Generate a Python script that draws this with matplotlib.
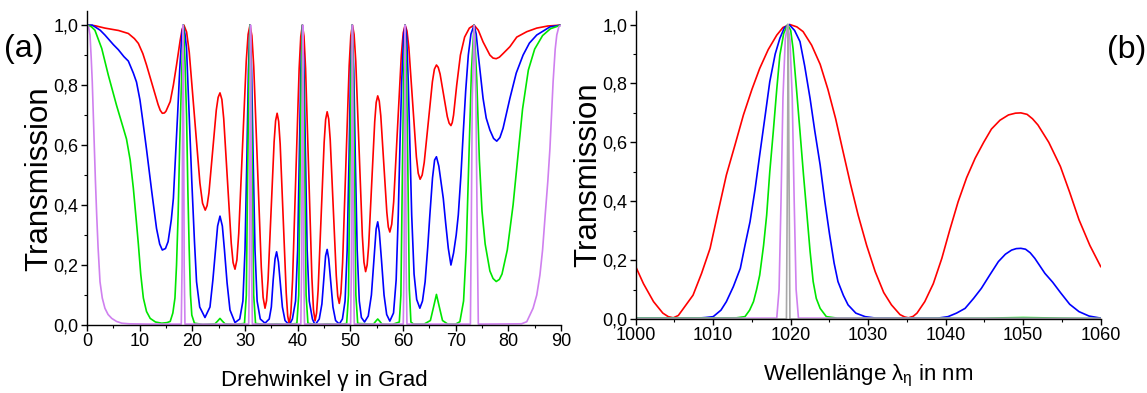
import numpy as np
import matplotlib
matplotlib.use("Agg")
import matplotlib.pyplot as plt
from matplotlib.ticker import MultipleLocator, FixedLocator, FixedFormatter

plt.rcParams['font.family'] = ['Liberation Sans', 'DejaVu Sans']
plt.rcParams['mathtext.fontset'] = 'custom'
plt.rcParams['mathtext.rm'] = 'Liberation Sans'
plt.rcParams['mathtext.it'] = 'Liberation Sans'

# ---- panel (a): transmission vs. rotation angle (deg, T) ----
red_a = [
    (0.0, 1.0), (1.5, 0.998), (3.4, 0.99), (6.0, 0.982), (7.85, 0.972), (9.0, 0.955),
    (9.75, 0.939), (10.6, 0.905), (11.3, 0.867), (12.0, 0.825), (12.6, 0.789), (13.5, 0.735),
    (13.9, 0.716), (14.3, 0.706), (14.7, 0.707), (15.0, 0.713), (15.8, 0.745), (16.4, 0.80),
    (17.0, 0.867), (17.7, 0.95), (18.05, 0.985), (18.4, 1.0),
    (18.91, 0.977), (19.41, 0.91), (20.43, 0.69), (21.44, 0.473), (21.94, 0.406),
    (22.45, 0.383), (22.8, 0.398), (23.15, 0.44), (23.85, 0.579), (24.55, 0.717), (24.9, 0.759),
    (25.25, 0.774), (25.61, 0.752), (25.96, 0.688), (26.68, 0.48), (27.39, 0.272), (27.74, 0.208),
    (28.1, 0.186), (28.46, 0.217), (28.81, 0.305), (29.53, 0.593), (30.24, 0.881), (30.59, 0.969),
    (30.95, 1.0), (31.31, 0.964), (31.66, 0.862), (32.38, 0.528), (33.09, 0.194), (33.44, 0.092),
    (33.8, 0.056), (34.09, 0.081), (34.38, 0.151), (34.95, 0.381), (35.53, 0.611), (35.81, 0.681),
    (36.1, 0.706), (36.39, 0.679), (36.68, 0.603), (37.25, 0.355), (37.83, 0.106), (38.11, 0.03),
    (38.4, 0.003), (38.71, 0.041), (39.03, 0.149), (39.65, 0.502), (40.28, 0.854), (40.59, 0.962),
    (40.9, 1.0), (41.2, 0.963), (41.5, 0.856), (42.1, 0.507), (42.7, 0.158), (43.0, 0.051),
    (43.3, 0.014), (43.59, 0.04), (43.88, 0.116), (44.45, 0.363), (45.03, 0.609), (45.31, 0.685),
    (45.6, 0.711), (45.89, 0.687), (46.18, 0.618), (46.75, 0.392), (47.33, 0.165), (47.61, 0.096),
    (47.9, 0.072), (48.21, 0.107), (48.53, 0.207), (49.15, 0.536), (49.78, 0.865), (50.09, 0.965),
    (50.4, 1.0), (50.71, 0.969), (51.03, 0.88), (51.65, 0.589), (52.28, 0.298), (52.59, 0.209),
    (52.9, 0.178), (53.19, 0.2), (53.48, 0.264), (54.05, 0.471), (54.63, 0.678), (54.91, 0.742),
    (55.2, 0.764), (55.49, 0.747), (55.78, 0.698), (56.35, 0.537), (56.93, 0.376), (57.21, 0.327),
    (57.5, 0.31), (57.86, 0.336), (58.23, 0.411), (58.95, 0.655), (59.68, 0.899), (60.04, 0.974),
    (60.4, 1.0), (60.76, 0.98), (61.11, 0.925), (61.83, 0.743), (62.54, 0.561), (62.89, 0.506),
    (63.25, 0.486), (63.64, 0.5), (64.03, 0.542), (64.8, 0.677), (65.58, 0.811), (65.96, 0.853),
    (66.35, 0.867), (66.69, 0.859), (67.04, 0.837), (67.73, 0.766), (68.41, 0.695), (68.76, 0.673),
    (69.1, 0.665), (69.35, 0.675), (69.6, 0.70), (70.2, 0.80), (70.9, 0.90), (71.7, 0.96),
    (72.6, 0.99), (73.5, 1.0), (74.3, 0.983), (75.2, 0.944), (76.5, 0.90), (77.1, 0.89),
    (77.7, 0.888), (78.3, 0.893), (79.0, 0.905), (80.3, 0.928), (81.6, 0.96),
    (83.5, 0.978), (85.4, 0.99), (87.5, 0.997), (90.0, 1.0),
]

blue_a = [
    (0.0, 1.0), (1.0, 1.0), (2.5, 0.983), (3.4, 0.967), (5.0, 0.935), (5.95, 0.918),
    (7.0, 0.895), (7.85, 0.88), (8.8, 0.84), (9.4, 0.81), (10.06, 0.75), (10.6, 0.68),
    (11.3, 0.586), (12.3, 0.444), (13.2, 0.322), (13.8, 0.27), (14.3, 0.25), (14.9, 0.255),
    (15.4, 0.278), (16.0, 0.35), (16.4, 0.422), (16.8, 0.56), (17.2, 0.70), (17.6, 0.85),
    (18.0, 0.967), (18.25, 1.0), (18.6, 0.97), (18.9, 0.922), (19.4, 0.70), (19.9, 0.478),
    (20.4, 0.28), (20.8, 0.144), (21.4, 0.06), (22.4, 0.025), (23.35, 0.06), (23.9, 0.15),
    (24.4, 0.25), (24.8, 0.33), (25.25, 0.363), (25.7, 0.33), (26.1, 0.25), (26.6, 0.14),
    (27.15, 0.05), (28.1, 0.008), (29.0, 0.02), (29.6, 0.08), (30.0, 0.25), (30.35, 0.55),
    (30.65, 0.85), (30.95, 1.0), (31.25, 0.85), (31.55, 0.55), (31.9, 0.25), (32.3, 0.08),
    (32.9, 0.02), (33.8, 0.006), (34.6, 0.02), (35.0, 0.06), (35.35, 0.15), (35.7, 0.22),
    (36.0, 0.244), (36.35, 0.21), (36.7, 0.14), (37.1, 0.06), (37.6, 0.015), (38.4, 0.0),
    (39.0, 0.02), (39.6, 0.08), (40.0, 0.25), (40.3, 0.55), (40.6, 0.85), (40.9, 1.0),
    (41.2, 0.85), (41.5, 0.55), (41.8, 0.25), (42.2, 0.08), (42.8, 0.02), (43.3, 0.0),
    (44.1, 0.02), (44.6, 0.07), (45.0, 0.16), (45.3, 0.23), (45.6, 0.252), (45.9, 0.22),
    (46.3, 0.14), (46.7, 0.06), (47.2, 0.015), (47.9, 0.003), (48.5, 0.02), (49.0, 0.08),
    (49.4, 0.25), (49.75, 0.55), (50.05, 0.85), (50.35, 1.0), (50.65, 0.85), (50.95, 0.55),
    (51.3, 0.25), (51.7, 0.08), (52.1, 0.025), (52.7, 0.01), (53.4, 0.03), (54.0, 0.10),
    (54.5, 0.22), (54.9, 0.32), (55.2, 0.344), (55.5, 0.31), (55.9, 0.22), (56.4, 0.10),
    (56.9, 0.035), (57.5, 0.013), (58.2, 0.04), (58.7, 0.15), (59.1, 0.367), (59.45, 0.62),
    (59.75, 0.81), (60.1, 0.96), (60.4, 1.0), (60.7, 0.96), (61.0, 0.81), (61.3, 0.6),
    (61.65, 0.367), (62.1, 0.17), (62.6, 0.085), (63.2, 0.056), (63.7, 0.08), (64.2, 0.144),
    (64.7, 0.26), (65.1, 0.367), (65.6, 0.49), (66.0, 0.55), (66.35, 0.561), (66.8, 0.53),
    (67.2, 0.48), (67.65, 0.422), (68.1, 0.34), (68.6, 0.256), (69.1, 0.20), (69.6, 0.24),
    (70.1, 0.30), (70.5, 0.367), (71.0, 0.50), (71.45, 0.644), (71.9, 0.78), (72.4, 0.90),
    (72.9, 0.97), (73.5, 1.0), (73.9, 0.97), (74.3, 0.90), (74.8, 0.82), (75.2, 0.756),
    (75.8, 0.69), (76.5, 0.65), (77.2, 0.622), (77.8, 0.613), (78.4, 0.625), (79.0, 0.656),
    (80.3, 0.756), (81.5, 0.84), (82.8, 0.90), (84.0, 0.94), (85.4, 0.967), (87.9, 0.994),
    (90.0, 1.0),
]

green_a = [
    (0.0, 1.0), (0.8, 0.995), (1.5, 0.983), (2.8, 0.922), (4.05, 0.833), (5.6, 0.733),
    (6.9, 0.656), (7.5, 0.62), (8.2, 0.55), (8.8, 0.456), (9.4, 0.34), (9.75, 0.27),
    (10.2, 0.17), (10.7, 0.09), (11.3, 0.045), (12.0, 0.022), (13.0, 0.01), (14.2, 0.006),
    (15.2, 0.008), (15.8, 0.012), (16.3, 0.04), (16.7, 0.09), (17.0, 0.2), (17.3, 0.367),
    (17.6, 0.6), (18.0, 0.85), (18.3, 1.0), (18.6, 0.88), (18.9, 0.7), (19.15, 0.45),
    (19.4, 0.256), (19.65, 0.1), (19.9, 0.033), (20.4, 0.006), (22.0, 0.002), (24.3, 0.004),
    (24.8, 0.013), (25.25, 0.022), (25.7, 0.013), (26.2, 0.004), (28.0, 0.002),
    (29.9, 0.005), (30.25, 0.1), (30.5, 0.5), (30.75, 0.85), (30.95, 1.0), (31.15, 0.85),
    (31.4, 0.5), (31.65, 0.1), (32.0, 0.005), (34.0, 0.002), (36.0, 0.004), (38.0, 0.002),
    (39.85, 0.005), (40.2, 0.1), (40.45, 0.5), (40.7, 0.85), (40.9, 1.0), (41.1, 0.85),
    (41.35, 0.5), (41.6, 0.1), (41.95, 0.005), (44.0, 0.002), (45.6, 0.004), (48.0, 0.002),
    (49.3, 0.005), (49.65, 0.1), (49.9, 0.5), (50.15, 0.85), (50.35, 1.0), (50.55, 0.85),
    (50.8, 0.5), (51.05, 0.1), (51.4, 0.005), (54.4, 0.003), (54.8, 0.012), (55.2, 0.02),
    (55.6, 0.012), (56.0, 0.003), (58.0, 0.002), (59.3, 0.01), (59.6, 0.1), (59.9, 0.53),
    (60.15, 0.85), (60.4, 1.0), (60.65, 0.85), (60.9, 0.55), (61.2, 0.12), (61.5, 0.01),
    (62.0, 0.003), (64.0, 0.003), (65.2, 0.015), (65.8, 0.06), (66.35, 0.102), (66.9, 0.06),
    (67.5, 0.015), (68.5, 0.003), (70.0, 0.003), (70.8, 0.011), (71.5, 0.08), (72.0, 0.25),
    (72.5, 0.55), (73.0, 0.85), (73.5, 1.0), (74.0, 0.82), (74.5, 0.55), (75.0, 0.38),
    (75.6, 0.27), (76.5, 0.18), (77.1, 0.155), (77.7, 0.145), (78.3, 0.152), (78.8, 0.17),
    (79.8, 0.25), (80.9, 0.40), (81.8, 0.56), (82.7, 0.72), (83.8, 0.85), (85.0, 0.92),
    (86.5, 0.965), (88.0, 0.988), (90.0, 1.0),
]

violet_a = [
    (0.0, 1.0), (0.3, 0.995), (0.57, 0.967), (0.8, 0.89), (1.0, 0.811), (1.2, 0.70),
    (1.4, 0.589), (1.6, 0.48), (1.84, 0.367), (2.1, 0.26), (2.47, 0.144), (2.9, 0.09),
    (3.4, 0.056), (4.0, 0.035), (4.7, 0.022), (5.6, 0.012), (6.6, 0.006), (8.0, 0.004),
    (12.0, 0.003), (17.9, 0.003), (18.05, 0.2), (18.15, 0.7), (18.25, 1.0), (18.35, 0.7),
    (18.45, 0.2), (18.6, 0.003), (30.7, 0.003), (30.85, 0.2), (30.95, 0.7), (31.05, 1.0),
    (31.15, 0.7), (31.25, 0.2), (31.4, 0.003), (40.6, 0.003), (40.75, 0.2), (40.85, 0.7),
    (40.95, 1.0), (41.05, 0.7), (41.15, 0.2), (41.3, 0.003), (50.05, 0.003), (50.2, 0.2),
    (50.3, 0.7), (50.4, 1.0), (50.5, 0.7), (50.6, 0.2), (50.75, 0.003), (60.05, 0.003),
    (60.2, 0.2), (60.3, 0.7), (60.4, 1.0), (60.5, 0.7), (60.6, 0.2), (60.75, 0.003),
    (72.8, 0.003), (72.95, 0.3), (73.15, 0.75), (73.5, 1.0), (73.85, 0.75), (74.1, 0.3),
    (74.3, 0.003), (82.5, 0.004), (83.5, 0.011), (84.7, 0.056), (85.4, 0.10), (86.0, 0.167),
    (86.5, 0.25), (87.0, 0.367), (87.5, 0.48), (87.9, 0.589), (88.2, 0.70), (88.5, 0.811),
    (88.9, 0.92), (89.2, 0.967), (89.6, 0.995), (90.0, 1.0),
]

# ---- panel (b): transmission vs. wavelength (nm, T) ----
red_b = [
    (1000.0, 0.178), (1001.0, 0.12), (1002.3, 0.059), (1003.5, 0.02), (1004.2, 0.008),
    (1004.85, 0.004), (1005.5, 0.012), (1006.0, 0.03), (1007.4, 0.081), (1008.5, 0.155),
    (1009.6, 0.24), (1010.6, 0.36), (1011.7, 0.489), (1012.8, 0.59), (1013.9, 0.693),
    (1015.0, 0.78), (1016.0, 0.851), (1017.1, 0.915), (1018.2, 0.964), (1019.0, 0.99),
    (1019.9, 1.0), (1020.8, 0.992), (1021.6, 0.976), (1022.7, 0.93), (1023.8, 0.865),
    (1024.8, 0.78), (1025.8, 0.68), (1026.7, 0.575), (1027.7, 0.46), (1028.7, 0.353),
    (1029.8, 0.25), (1030.9, 0.161), (1032.0, 0.09), (1033.0, 0.048), (1034.1, 0.015),
    (1034.7, 0.007), (1035.2, 0.004), (1035.8, 0.009), (1036.3, 0.02), (1037.3, 0.059),
    (1038.4, 0.12), (1039.5, 0.206), (1040.5, 0.30), (1041.6, 0.398), (1042.7, 0.48),
    (1043.8, 0.546), (1044.9, 0.60), (1045.9, 0.645), (1047.0, 0.675), (1048.1, 0.693),
    (1049.0, 0.699), (1049.7, 0.70), (1050.5, 0.695), (1051.2, 0.68), (1051.9, 0.659),
    (1053.3, 0.60), (1054.8, 0.518), (1056.0, 0.43), (1057.2, 0.337), (1058.6, 0.25),
    (1060.0, 0.178),
]

blue_b = [
    (1000.0, 0.002), (1008.0, 0.003), (1009.0, 0.005), (1010.0, 0.008), (1011.0, 0.03),
    (1011.7, 0.059), (1012.6, 0.11), (1013.5, 0.172), (1014.1, 0.25), (1014.75, 0.33),
    (1015.4, 0.44), (1016.0, 0.557), (1016.7, 0.69), (1017.3, 0.806), (1018.0, 0.90),
    (1018.6, 0.953), (1019.2, 0.99), (1019.8, 1.0), (1020.5, 0.98), (1021.2, 0.942),
    (1021.8, 0.86), (1022.5, 0.749), (1023.1, 0.64), (1023.8, 0.523), (1024.4, 0.40),
    (1025.0, 0.29), (1025.6, 0.19), (1026.1, 0.127), (1026.8, 0.08), (1027.4, 0.048),
    (1028.4, 0.02), (1029.6, 0.008), (1031.0, 0.003), (1039.0, 0.003), (1040.3, 0.008),
    (1041.4, 0.02), (1042.5, 0.036), (1043.6, 0.07), (1044.6, 0.104), (1045.7, 0.15),
    (1046.8, 0.195), (1047.7, 0.22), (1048.5, 0.234), (1049.1, 0.239), (1049.7, 0.24),
    (1050.3, 0.237), (1050.9, 0.225), (1051.5, 0.206), (1052.8, 0.155), (1053.8, 0.125),
    (1054.8, 0.09), (1056.0, 0.05), (1057.2, 0.025), (1058.5, 0.01), (1060.0, 0.003),
]

green_b = [
    (1000.0, 0.003), (1013.0, 0.004), (1014.1, 0.008), (1014.7, 0.03), (1015.2, 0.059),
    (1015.6, 0.10), (1016.0, 0.149), (1016.5, 0.25), (1016.9, 0.353), (1017.3, 0.50),
    (1017.75, 0.636), (1018.2, 0.78), (1018.6, 0.896), (1019.1, 0.97), (1019.6, 1.0),
    (1020.0, 0.98), (1020.3, 0.919), (1020.75, 0.78), (1021.2, 0.636), (1021.65, 0.49),
    (1022.1, 0.353), (1022.5, 0.23), (1022.9, 0.127), (1023.3, 0.07), (1023.8, 0.036),
    (1024.6, 0.008), (1026.0, 0.003), (1045.0, 0.003), (1050.0, 0.005), (1055.0, 0.003),
    (1060.0, 0.002),
]

violet_b = [
    (1000.0, 0.002), (1018.2, 0.003), (1018.5, 0.1), (1018.75, 0.4), (1019.0, 0.75),
    (1019.3, 0.95), (1019.6, 1.0), (1019.9, 0.95), (1020.2, 0.75), (1020.45, 0.4),
    (1020.7, 0.1), (1021.0, 0.003), (1060.0, 0.002),
]

gray_b = [
    (1000.0, 0.0), (1019.45, 0.0), (1019.6, 0.6), (1019.68, 1.0), (1019.76, 0.6),
    (1019.9, 0.0), (1060.0, 0.0),
]

colors = {'red': '#ff0000', 'blue': '#0000ff', 'green': '#00e600',
          'violet': '#cf80ef', 'gray': '#a8a8a8'}

ytick_vals = [0.0, 0.2, 0.4, 0.6, 0.8, 1.0]
ytick_labels = ['0,0', '0,2', '0,4', '0,6', '0,8', '1,0']
xticks_a = [0, 10, 20, 30, 40, 50, 60, 70, 80, 90]
xticks_b = [1000, 1010, 1020, 1030, 1040, 1050, 1060]

W, H = 1147, 393
fig = plt.figure(figsize=(W / 100, H / 100), dpi=100)


def px_axes(left, right, bottom, top):
    return fig.add_axes([left / W, 1 - bottom / H, (right - left) / W, (bottom - top) / H])


def style(ax, xticks, xminor, xlim, ylim):
    for s in ('top', 'right'):
        ax.spines[s].set_visible(False)
    for s in ('left', 'bottom'):
        ax.spines[s].set_linewidth(1.0)
    ax.set_xlim(*xlim)
    ax.set_ylim(*ylim)
    ax.xaxis.set_major_locator(FixedLocator(xticks))
    ax.xaxis.set_minor_locator(MultipleLocator(xminor))
    ax.yaxis.set_major_locator(FixedLocator(ytick_vals))
    ax.yaxis.set_major_formatter(FixedFormatter(ytick_labels))
    ax.yaxis.set_minor_locator(MultipleLocator(0.1))
    ax.tick_params(which='major', direction='out', length=4, width=1.0, labelsize=13, pad=2)
    ax.tick_params(which='minor', direction='out', length=2.5, width=0.8)


def draw(ax, series):
    for pts, c in series:
        x, y = np.array(pts).T
        ax.plot(x, y, color=colors[c], lw=1.2, solid_joinstyle='round')


# panel (a)
ax1 = px_axes(87, 561, 325, 11)
style(ax1, xticks_a, 5, (0, 90), (0, 1.047))
draw(ax1, [(red_a, 'red'), (blue_a, 'blue'), (green_a, 'green'), (violet_a, 'violet')])

# panel (b)
ax2 = px_axes(635.7, 1100.7, 319, 11)
style(ax2, xticks_b, 5, (1000, 1060), (0, 1.046))
draw(ax2, [(red_b, 'red'), (blue_b, 'blue'), (green_b, 'green'),
           (violet_b, 'violet'), (gray_b, 'gray')])

# labels
fig.text(24 / W, 1 - 49 / H, '(a)', fontsize=23, ha='center', va='center')
fig.text(1127 / W, 1 - 50 / H, '(b)', fontsize=23, ha='center', va='center')
fig.text(39 / W, 1 - 179 / H, 'Transmission', fontsize=22.5, rotation=90,
         ha='center', va='center')
fig.text(588 / W, 1 - 175 / H, 'Transmission', fontsize=22.5, rotation=90,
         ha='center', va='center')
fig.text(324.5 / W, 1 - 386 / H, 'Drehwinkel γ in Grad', fontsize=16,
         ha='center', va='baseline')
fig.text(868 / W, 1 - 380 / H, r'Wellenlänge λ$_{\eta}$ in nm', fontsize=16,
         ha='center', va='baseline')

fig.savefig('out.png', dpi=100)
